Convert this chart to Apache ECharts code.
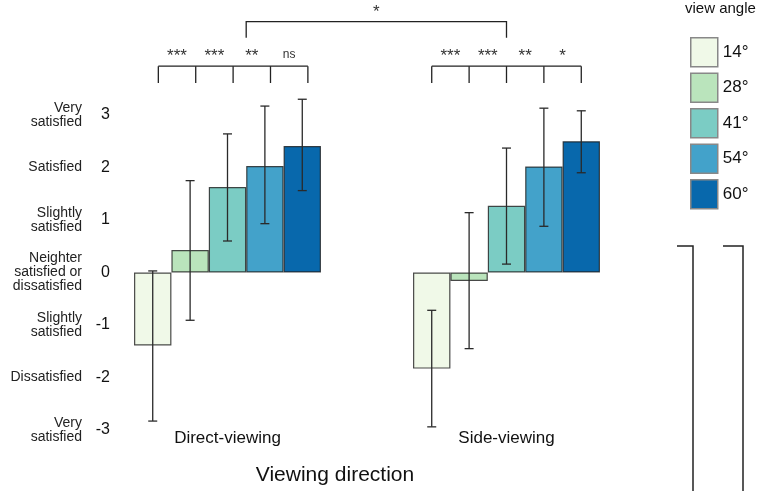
<!DOCTYPE html>
<html>
<head>
<meta charset="utf-8">
<script src="https://cdn.jsdelivr.net/npm/echarts@6/dist/echarts.min.js"></script>
<style>
  html, body { margin: 0; padding: 0; background: #fff; }
  #chart { width: 760px; height: 491px; }
</style>
</head>
<body>
<div id="chart"></div>
<script>
const categories = ['Direct-viewing', 'Side-viewing']
const angles = ['14°', '28°', '41°', '54°', '60°']
const colors = ['#f0f9e8', '#bae4bc', '#7bccc4', '#43a2ca', '#0868ac']

// mean rating per view angle
const directMean = [-1.39, 0.43, 1.63, 2.03, 2.41]
const sideMean = [-1.83, -0.16, 1.27, 2.02, 2.50]
// error bar ends
const directLow = [-2.83, -0.91, 0.60, 0.93, 1.56]
const directHigh = [0.03, 1.75, 2.64, 3.17, 3.30]
const sideLow = [-2.94, -1.45, 0.16, 0.88, 1.90]
const sideHigh = [-0.72, 1.14, 2.37, 3.13, 3.08]

const yTicks = [-3, -2, -1, 0, 1, 2, 3]
const yTickText = [
  'Very\nsatisfied',
  'Dissatisfied',
  'Slightly\nsatisfied',
  'Neighter\nsatisfied or\ndissatisfied',
  'Slightly\nsatisfied',
  'Satisfied',
  'Very\nsatisfied'
]

const directSig = ['***', '***', '**', 'ns']
const sideSig = ['***', '***', '**', '*']
const betweenSig = '*'

const FONT = '"Liberation Sans", Arial, sans-serif'
const CAT_GAP = 0.33

const chart = echarts.init(document.getElementById('chart'))

const slotWidth = (api) => api.size([1, 0])[0] * (1 - CAT_GAP) / angles.length
const slotX = (api, cat, slot) =>
  api.coord([cat, 0])[0] + (slot - (angles.length - 1) / 2) * slotWidth(api)

const errorData = []
angles.forEach((a, i) => {
  errorData.push([0, i, directLow[i], directHigh[i]])
  errorData.push([1, i, sideLow[i], sideHigh[i]])
})

const renderError = (params, api) => {
  const x = slotX(api, api.value(0), api.value(1))
  const yLo = api.coord([api.value(0), api.value(2)])[1]
  const yHi = api.coord([api.value(0), api.value(3)])[1]
  const style = { stroke: '#2a2a2a', lineWidth: 1.3 }
  return {
    type: 'group',
    children: [
      { type: 'line', shape: { x1: x, y1: yHi, x2: x, y2: yLo }, style },
      { type: 'line', shape: { x1: x - 4.5, y1: yHi, x2: x + 4.5, y2: yHi }, style },
      { type: 'line', shape: { x1: x - 4.5, y1: yLo, x2: x + 4.5, y2: yLo }, style }
    ]
  }
}

const sigText = (t, x, y) => ({
  type: 'text',
  style: {
    text: t,
    x,
    y,
    align: 'center',
    verticalAlign: 'bottom',
    fontSize: t === 'ns' ? 12 : 17,
    fontFamily: FONT,
    fill: '#333'
  }
})

const renderPairs = (params, api) => {
  const cat = api.value(0)
  const labels = cat === 0 ? directSig : sideSig
  const shift = cat === 0 ? 0.15 : 0
  const yLine = api.coord([cat, 3.93])[1]
  const yTick = api.coord([cat, 3.61])[1]
  const xs = angles.map((a, i) => slotX(api, cat, i + shift))
  const style = { stroke: '#222', lineWidth: 1.3 }
  const children = [
    { type: 'line', shape: { x1: xs[0], y1: yLine, x2: xs[xs.length - 1], y2: yLine }, style }
  ]
  xs.forEach((x) => {
    children.push({ type: 'line', shape: { x1: x, y1: yLine, x2: x, y2: yTick }, style })
  })
  labels.forEach((t, i) => {
    children.push(sigText(t, (xs[i] + xs[i + 1]) / 2, t === 'ns' ? yLine - 5 : yLine - 1))
  })
  return { type: 'group', children }
}

const renderBetween = (params, api) => {
  const x1 = slotX(api, 0, 2.5)
  const x2 = slotX(api, 1, 2)
  const yLine = api.coord([0, 4.78])[1]
  const yTick = api.coord([0, 4.47])[1]
  return {
    type: 'group',
    children: [
      {
        type: 'polyline',
        shape: { points: [[x1, yTick], [x1, yLine], [x2, yLine], [x2, yTick]] },
        style: { stroke: '#222', lineWidth: 1.3, fill: 'none' }
      },
      sigText(betweenSig, (x1 + x2) / 2, yLine - 1)
    ]
  }
}

const option = {
  animation: false,
  textStyle: { fontFamily: FONT },
  grid: {
    left: 88,
    right: 114,
    top: 115,
    bottom: 61,
    outerBoundsMode: 'none'
  },
  legend: {
    data: angles,
    orient: 'vertical',
    left: 685,
    top: 32,
    itemWidth: 27,
    itemHeight: 29,
    itemGap: 5,
    icon: 'rect',
    itemStyle: { borderColor: '#888', borderWidth: 1.5 },
    textStyle: { fontSize: 17, color: '#111', fontFamily: FONT }
  },
  xAxis: {
    type: 'category',
    data: categories,
    axisLine: { show: false, onZero: false },
    axisTick: { show: false },
    axisLabel: { fontSize: 17, color: '#111', margin: 0 },
    splitLine: { show: false }
  },
  yAxis: [
    {
      type: 'value',
      min: -3,
      max: 3,
      interval: 1,
      position: 'left',
      axisLine: { show: false },
      axisTick: { show: false },
      splitLine: { show: false },
      axisLabel: {
        inside: true,
        align: 'right',
        margin: 22,
        fontSize: 16,
        color: '#111'
      }
    },
    {
      type: 'value',
      min: -3,
      max: 3,
      interval: 1,
      position: 'left',
      axisLine: { show: false },
      axisTick: { show: false },
      splitLine: { show: false },
      axisLabel: {
        margin: 6,
        align: 'right',
        fontSize: 14,
        lineHeight: 14,
        color: '#222',
        formatter: (v) => yTickText[yTicks.indexOf(v)]
      }
    }
  ],
  series: [
    ...angles.map((a, i) => ({
      type: 'bar',
      name: a,
      data: [directMean[i], sideMean[i]],
      barGap: '0%',
      barCategoryGap: CAT_GAP * 100 + '%',
      itemStyle: {
        color: colors[i],
        borderColor: 'rgba(30, 30, 30, 0.8)',
        borderWidth: 1.2
      }
    })),
    {
      type: 'custom',
      name: 'error',
      data: errorData,
      encode: { x: 0, y: [2, 3] },
      renderItem: renderError,
      clip: false,
      z: 5
    },
    {
      type: 'custom',
      name: 'pairs',
      data: [[0, 0], [1, 0]],
      encode: { x: 0, y: 1 },
      renderItem: renderPairs,
      clip: false,
      z: 5
    },
    {
      type: 'custom',
      name: 'between',
      data: [[0, 0]],
      encode: { x: 0, y: 1 },
      renderItem: renderBetween,
      clip: false,
      z: 5
    }
  ],
  graphic: [
    {
      type: 'text',
      left: 685,
      top: 1,
      style: { text: 'view angle', fontSize: 15, fontFamily: FONT, fill: '#111' }
    },
    {
      type: 'text',
      x: 335,
      y: 475,
      style: {
        text: 'Viewing direction',
        fontSize: 21,
        fontFamily: FONT,
        fill: '#111',
        align: 'center',
        verticalAlign: 'middle'
      }
    },
    {
      type: 'polyline',
      shape: { points: [[677, 246], [693, 246], [693, 491]] },
      style: { stroke: '#222', lineWidth: 1.5, fill: null }
    },
    {
      type: 'polyline',
      shape: { points: [[723, 246], [743, 246], [743, 491]] },
      style: { stroke: '#222', lineWidth: 1.5, fill: null }
    }
  ]
}

chart.setOption(option)
</script>
</body>
</html>
